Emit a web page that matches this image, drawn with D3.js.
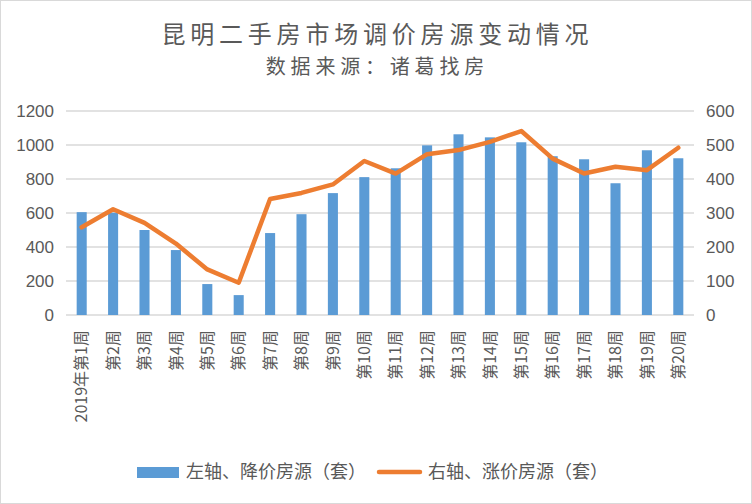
<!DOCTYPE html>
<html>
<head>
<meta charset="utf-8">
<script src="https://cdn.jsdelivr.net/npm/d3@7"></script>
<style>
  body { margin: 0; background: #fff; }
  text { font-family: "Noto Sans CJK SC", "Noto Sans", sans-serif; fill: #595959; }
</style>
</head>
<body>
<div id="chart"></div>
<script>
// 昆明二手房市场调价房源变动情况 - bars on left axis, line on right axis
const weeks = ['2019年第1周', '第2周', '第3周', '第4周', '第5周', '第6周', '第7周', '第8周', '第9周', '第10周',
  '第11周', '第12周', '第13周', '第14周', '第15周', '第16周', '第17周', '第18周', '第19周', '第20周'];
const priceDown = [605, 602, 500, 382, 182, 117, 482, 593, 717, 811, 863, 998, 1063, 1045, 1016, 934, 916, 775, 969, 922];
const priceUp = [258, 311, 271, 210, 134, 95, 341, 359, 384, 453, 416, 473, 485, 509, 541, 460, 416, 436, 426, 492];
const leftTicks = [0, 200, 400, 600, 800, 1000, 1200];
const rightTicks = [0, 100, 200, 300, 400, 500, 600];

const W = 752, H = 504;
const plot = { left: 66, right: 694, top: 111, bottom: 315 };

const svg = d3.select('#chart').append('svg').attr('width', W).attr('height', H);

svg.append('rect').attr('x', 0.5).attr('y', 0.5).attr('width', W - 1).attr('height', H - 1)
  .attr('fill', '#fff').attr('stroke', '#d9d9d9');

// titles (letter-spacing adds a trailing gap, so shift by half of it)
svg.append('text').attr('x', 375 + 2.4).attr('y', 43).attr('text-anchor', 'middle')
  .style('font-size', '24px').style('letter-spacing', '4.8px').text('昆明二手房市场调价房源变动情况');
svg.append('text').attr('x', 375 + 2.4).attr('y', 74).attr('text-anchor', 'middle')
  .style('font-size', '20px').style('letter-spacing', '4.8px').text('数据来源：诸葛找房');

// scales
const x = d3.scaleBand().domain(weeks).range([plot.left, plot.right]);
const yL = d3.scaleLinear().domain([0, 1200]).range([plot.bottom, plot.top]);
const yR = d3.scaleLinear().domain([0, 600]).range([plot.bottom, plot.top]);

// gridlines
svg.append('g').selectAll('line').data(leftTicks).join('line')
  .attr('x1', plot.left).attr('x2', plot.right)
  .attr('y1', d => yL(d)).attr('y2', d => yL(d))
  .attr('stroke', '#d9d9d9').attr('stroke-width', 1.3);

// axes
const leftAxis = svg.append('g').attr('transform', `translate(${plot.left - 4},0)`)
  .call(d3.axisLeft(yL).tickValues(leftTicks).tickFormat(d3.format('d')).tickSize(0).tickPadding(8));
const rightAxis = svg.append('g').attr('transform', `translate(${plot.right + 4},0)`)
  .call(d3.axisRight(yR).tickValues(rightTicks).tickFormat(d3.format('d')).tickSize(0).tickPadding(8));
[leftAxis, rightAxis].forEach(g => {
  g.select('.domain').remove();
  g.selectAll('text').style('font-size', '17px').attr('fill', '#595959')
    .style('font-family', '"Liberation Sans", Arial, sans-serif');
});

// bars
const barW = x.bandwidth() * 0.32;
svg.append('g').selectAll('rect').data(priceDown).join('rect')
  .attr('x', (d, i) => x(weeks[i]) + x.bandwidth() / 2 - barW / 2)
  .attr('width', barW)
  .attr('y', d => yL(d))
  .attr('height', d => yL(0) - yL(d))
  .attr('fill', '#5b9bd5');

// line
const line = d3.line().x((d, i) => x(weeks[i]) + x.bandwidth() / 2).y(d => yR(d));
svg.append('path').datum(priceUp).attr('d', line)
  .attr('fill', 'none').attr('stroke', '#ed7d31').attr('stroke-width', 4.5)
  .attr('stroke-linejoin', 'round').attr('stroke-linecap', 'round');

// x labels, rotated
const xAxis = svg.append('g').attr('transform', `translate(0,${plot.bottom})`)
  .call(d3.axisBottom(x).tickSize(0).tickPadding(0));
xAxis.select('.domain').remove();
xAxis.selectAll('text')
  .style('font-size', '16px')
  .attr('transform', 'rotate(-90)')
  .attr('text-anchor', 'end')
  .attr('x', -15).attr('y', 0).attr('dy', '0.35em');

// legend
const lg = svg.append('g');
lg.append('rect').attr('x', 137).attr('y', 467).attr('width', 42).attr('height', 11).attr('fill', '#5b9bd5');
lg.append('text').attr('x', 186).attr('y', 478).style('font-size', '18px').text('左轴、降价房源（套）');
lg.append('line').attr('x1', 379).attr('x2', 420).attr('y1', 472).attr('y2', 472)
  .attr('stroke', '#ed7d31').attr('stroke-width', 4.5).attr('stroke-linecap', 'round');
lg.append('text').attr('x', 428).attr('y', 478).style('font-size', '18px').text('右轴、涨价房源（套）');
</script>
</body>
</html>
